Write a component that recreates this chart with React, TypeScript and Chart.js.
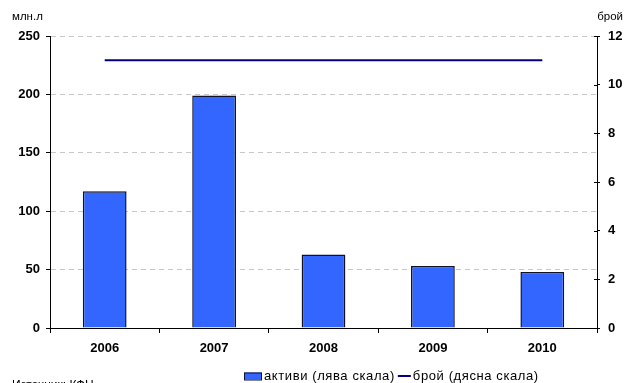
import { useEffect, useRef } from "react";
import { Chart, registerables } from "chart.js";

Chart.register(...registerables);

// Years on the category axis
const years = ["2006", "2007", "2008", "2009", "2010"];
// Assets, million leva (left scale)
const assets = [117, 199, 63, 53, 48];
// Number of companies (right scale)
const counts = [11, 11, 11, 11, 11];

const leftTitle = "млн.л";
const rightTitle = "брой";
const assetsLabel = "активи (лява скала)";
const countLabel = "брой (дясна скала)";
const sourceNote = "Източник: КФН";

const FONT = "Arial, 'Liberation Sans', Helvetica, sans-serif";
const BAR_FILL = "#3366ff";
const BAR_EDGE = "#101028";
const LINE_COLOR = "#000080";

// Axis titles, inner halves of right-axis ticks, legend and source note
const annotations = {
  id: "annotations",
  afterDraw(chart: any) {
    const { ctx, chartArea, scales } = chart;
    ctx.save();
    ctx.fillStyle = "#000";

    ctx.font = `11.5px ${FONT}`;
    ctx.textBaseline = "middle";
    ctx.textAlign = "left";
    ctx.fillText(leftTitle, 12, 17);
    ctx.textAlign = "right";
    ctx.fillText(rightTitle, 623, 17);

    const y1 = scales.y1;
    ctx.strokeStyle = "#000";
    ctx.lineWidth = 1;
    y1.ticks.forEach((t: any) => {
      const py = Math.round(y1.getPixelForValue(t.value)) + 0.5;
      ctx.beginPath();
      ctx.moveTo(chartArea.right - 3, py);
      ctx.lineTo(chartArea.right, py);
      ctx.stroke();
    });

    // legend
    const ly = 376;
    ctx.font = `13px ${FONT}`;
    (ctx as any).letterSpacing = "0.6px";
    ctx.textAlign = "left";
    ctx.textBaseline = "middle";
    ctx.fillStyle = BAR_FILL;
    ctx.fillRect(244, ly - 3.5, 18, 7);
    ctx.strokeStyle = BAR_EDGE;
    ctx.strokeRect(244.5, ly - 3, 17, 7);
    ctx.fillStyle = "#000";
    ctx.fillText(assetsLabel, 264, ly);
    const x2 = 264 + ctx.measureText(assetsLabel).width + 3;
    ctx.strokeStyle = LINE_COLOR;
    ctx.lineWidth = 2;
    ctx.beginPath();
    ctx.moveTo(x2, ly);
    ctx.lineTo(x2 + 13, ly);
    ctx.stroke();
    ctx.fillText(countLabel, x2 + 15, ly);

    // source
    (ctx as any).letterSpacing = "0px";
    ctx.font = `12px ${FONT}`;
    ctx.textBaseline = "top";
    ctx.fillText(sourceNote, 12, 380);
    ctx.restore();
  },
};

export default function App() {
  const canvasRef = useRef<HTMLCanvasElement | null>(null);

  useEffect(() => {
    if (!canvasRef.current) return;
    const tickFont = { family: FONT, size: 13, weight: "bold" as const };
    const chart = new Chart(canvasRef.current, {
      type: "bar",
      data: {
        labels: years,
        datasets: [
          {
            type: "line",
            label: countLabel,
            data: counts,
            yAxisID: "y1",
            borderColor: LINE_COLOR,
            borderWidth: 2,
            pointRadius: 0,
            tension: 0,
            order: 0,
          },
          {
            type: "bar",
            label: assetsLabel,
            data: assets,
            yAxisID: "y",
            backgroundColor: BAR_FILL,
            borderColor: BAR_EDGE,
            borderWidth: 1.5,
            barPercentage: 0.8,
            categoryPercentage: 0.5,
            order: 1,
          },
        ],
      },
      options: {
        animation: false,
        responsive: true,
        maintainAspectRatio: false,
        layout: { padding: { top: 36, left: 0, right: 0, bottom: 0 } },
        plugins: {
          legend: { display: false },
          tooltip: { enabled: false },
        },
        scales: {
          x: {
            offset: true,
            grid: {
              display: true,
              drawOnChartArea: false,
              offset: true,
              tickLength: 5,
              tickColor: "#000",
            },
            border: { color: "#000", width: 1 },
            ticks: { font: tickFont, color: "#000", padding: 8 },
            afterFit: (s: any) => {
              s.height = 55;
            },
          },
          y: {
            position: "left",
            min: 0,
            max: 250,
            ticks: { stepSize: 50, font: tickFont, color: "#000", padding: 6 },
            grid: {
              color: (c: any) => (c.tick && c.tick.value === 0 ? "rgba(0,0,0,0)" : "#c8c8c8"),
              tickColor: "#000",
              tickLength: 4,
            },
            border: { color: "#000", width: 1, dash: [5, 4] },
            afterFit: (s: any) => {
              s.width = 50;
            },
          },
          y1: {
            position: "right",
            min: 0,
            max: 12,
            ticks: { stepSize: 2, font: tickFont, color: "#000", padding: 8 },
            grid: {
              drawOnChartArea: false,
              tickColor: "#000",
              tickLength: 3,
            },
            border: { color: "#000", width: 1 },
            afterFit: (s: any) => {
              s.width = 27;
            },
          },
        },
      },
      plugins: [annotations],
    });
    return () => chart.destroy();
  }, []);

  return (
    <div style={{ position: "absolute", left: 0, top: 0, width: 624, height: 383 }}>
      <canvas ref={canvasRef} />
    </div>
  );
}
